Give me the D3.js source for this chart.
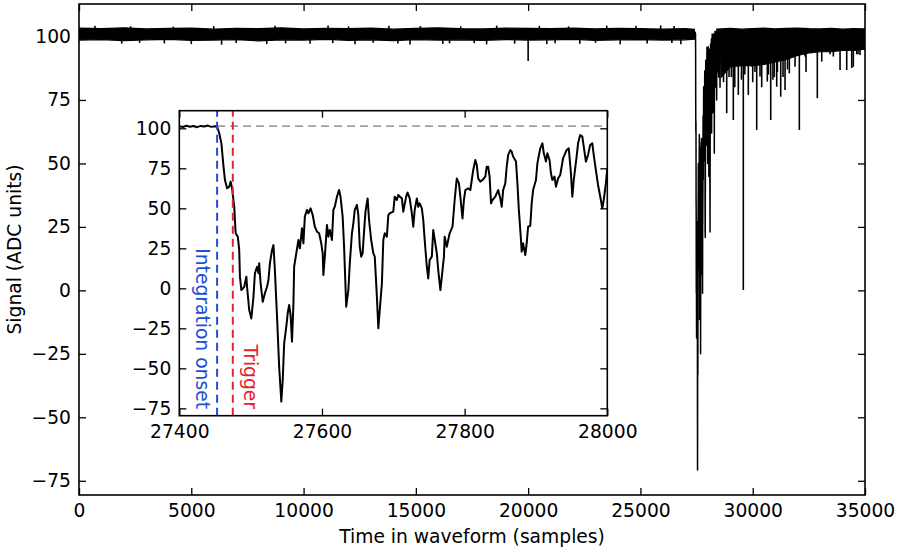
<!DOCTYPE html>
<html>
<head>
<meta charset="utf-8">
<script src="https://cdn.jsdelivr.net/npm/d3@7"></script>
<style>
body { margin: 0; background: #fff; }
svg text { font-family: "DejaVu Sans", sans-serif; }
</style>
</head>
<body>
<svg id="chart" width="900" height="555"></svg>
<script>
// baseline envelope (min / max of the trace) before the pulse
var preSamples = [0, 1000, 2000, 3000, 4000, 5000, 6000, 7000, 8000, 9000, 10000, 11000, 12000, 13000,
    14000, 15000, 16000, 17000, 18000, 19000, 20000, 21000, 22000, 23000, 24000, 25000, 26000, 27000, 27400];
var preLow = [98.6, 98.8, 98.4, 98.7, 98.9, 98.5, 98.6, 98.8, 98.3, 98.7, 98.6, 98.9, 98.5, 98.7,
    98.4, 98.8, 98.6, 98.7, 98.5, 98.8, 98.6, 98.7, 98.9, 98.5, 98.7, 98.8, 98.6, 98.7, 98.9];
var preHigh = [103.3, 103.1, 103.4, 103.0, 103.2, 103.3, 102.9, 103.2, 103.1, 103.4, 103.0, 103.2, 103.1, 103.3,
    102.9, 103.2, 103.4, 103.1, 103.0, 103.3, 103.2, 103.1, 103.3, 103.0, 103.2, 103.1, 102.9, 103.1, 102.8];

// envelope after the pulse has recovered
var postSamples = [28600, 29000, 29500, 30000, 30500, 31000, 31500, 32000, 32500, 33000, 33500, 34000, 34500, 35000];
var postLow = [84.0, 88.0, 88.5, 88.5, 89.0, 90.0, 91.0, 92.5, 93.5, 94.0, 94.0, 94.5, 94.5, 95.0];
var postHigh = [103.0, 103.2, 102.9, 103.1, 103.3, 103.0, 103.2, 103.3, 103.1, 103.0, 103.2, 102.9, 103.1, 103.0];

// single-sample excursions out of the band
var spikeSamples = [710, 1900, 2300, 2700, 3800, 4200, 5000, 6000, 6350, 7000, 8360, 8730, 9200, 10290,
    11090, 11300, 12000, 12290, 13100, 13800, 14200, 14740, 15200, 16200, 16500, 17000, 17600, 18150,
    18600, 19400, 20000, 20500, 20830, 21200, 21800, 22300, 23000, 23500, 24100, 24800, 25300, 25900,
    26400, 26500, 26800,
    28700, 28842, 28945, 29050, 29136, 29200, 29359, 29500, 29581, 29650, 29804, 29969, 30000, 30100,
    30178, 30325, 30400, 30548, 30650, 30700, 30802, 30900, 30962, 31069, 31100, 31171, 31247, 31350,
    31439, 31550, 31630, 31884, 32076, 32330, 32374, 32627, 32877, 33073, 33367, 33443, 33590, 33889,
    34186, 34409, 34480, 34632, 34690, 34778];
var spikeValues = [104.2, 97.2, 104.0, 97.5, 97.3, 103.9, 97.0, 104.1, 96.8, 97.4, 97.0, 104.2, 97.3, 97.1,
    104.3, 97.4, 104.0, 96.9, 97.5, 104.2, 97.2, 96.8, 104.1, 97.0, 97.3, 104.0, 97.4, 96.9,
    104.3, 97.2, 90.3, 104.2, 97.0, 97.3, 104.0, 97.1, 97.5, 104.3, 96.9, 104.2, 97.2, 104.4,
    97.4, 104.1, 96.9,
    82, 69.8, 84, 84, 67.1, 80, 77, 83, 0.1, 85, 77, 88, 82, 86,
    63.2, 84.2, 80, 89.5, 82.2, 85, 67.1, 83, 84, 80.2, 86, 91.5, 76.3, 84,
    78.9, 87, 85.5, 88.1, 63.2, 92.1, 86, 93.4, 75.7, 90.1, 96.2, 93, 92.1, 86.8,
    86.8, 87.6, 88.1, 93, 93, 92.7];

// the pulse itself, sample by sample
var pulseSamples = [27400, 27405, 27410, 27415, 27420, 27425, 27430, 27435, 27440, 27445, 27450, 27453,
    27456, 27459, 27462, 27464, 27467, 27470, 27472, 27474, 27477, 27479, 27482, 27484, 27485, 27487,
    27491, 27494, 27495, 27498, 27501, 27504, 27506, 27509, 27511, 27512, 27514, 27517, 27520, 27523,
    27525, 27527, 27530, 27532, 27534, 27537, 27540, 27543, 27545, 27547, 27550, 27552, 27554, 27556,
    27558, 27560, 27561, 27564, 27567, 27569, 27572, 27574, 27576, 27579, 27581, 27584, 27587, 27590,
    27593, 27596, 27599, 27601, 27602, 27604, 27607, 27609, 27611, 27614, 27616, 27618, 27621, 27624,
    27626, 27629, 27631, 27634, 27637, 27639, 27642, 27644, 27646, 27649, 27651, 27653, 27655, 27657,
    27659, 27661, 27664, 27666, 27669, 27672, 27674, 27677, 27679, 27684, 27686, 27688, 27691, 27693,
    27695, 27700, 27702, 27705, 27707, 27709, 27712, 27714, 27718, 27720, 27723, 27726, 27728, 27730,
    27733, 27735, 27737, 27740, 27742, 27744, 27747, 27749, 27751, 27754, 27756, 27761, 27763, 27766,
    27769, 27771, 27772, 27775, 27777, 27779, 27783, 27786, 27789, 27792, 27794, 27797, 27799, 27801,
    27805, 27808, 27810, 27812, 27815, 27817, 27819, 27822, 27825, 27829, 27831, 27833, 27835, 27837,
    27839, 27843, 27845, 27847, 27850, 27852, 27854, 27857, 27859, 27861, 27864, 27866, 27868, 27872,
    27874, 27876, 27879, 27880, 27882, 27885, 27887, 27889, 27892, 27894, 27896, 27900, 27902, 27906,
    27909, 27911, 27914, 27916, 27919, 27921, 27923, 27926, 27928, 27931, 27934, 27936, 27938, 27941,
    27943, 27946, 27949, 27951, 27953, 27957, 27959, 27962, 27965, 27967, 27970, 27973, 27976, 27979,
    27981, 27984, 27987, 27991, 27993, 27995, 27998, 28000,
    28008, 28015, 28022, 28030, 28038, 28046, 28055, 28063, 28071, 28080, 28090, 28100, 28110, 28118,
    28126, 28135, 28143, 28152, 28160, 28170, 28178, 28187, 28195, 28205, 28214, 28222, 28231, 28240,
    28248, 28257, 28266, 28275, 28283, 28290, 28300, 28310, 28320, 28330, 28340, 28350, 28360, 28370,
    28380, 28395, 28410, 28425, 28440, 28455, 28470, 28485, 28500, 28515, 28530, 28544, 28560, 28575,
    28590, 28600];
var pulseValues = [101.3, 100.8, 101.6, 101.0, 101.4, 100.7, 101.5, 101.1, 101.7, 100.9, 101.3, 101.0,
    96.9, 90.6, 76.0, 67.7, 62.5, 63.5, 66.7, 62.5, 51.0, 34.4, 32.3, 24.0, 7.3, -1.1,
    0.9, 7.3, 1.0, -13.6, -18.8, -5.2, 9.4, 13.5, 9.4, 15.6, 3.1, -8.4, -3.1, 1.0,
    5.2, 15.6, 24.0, 27.0, 11.4, -17.7, -49.0, -70.8, -57.3, -34.4, -24.0, -15.6, -10.4, -16.7,
    -33.3, -9.4, 13.5, 21.9, 30.2, 25.0, 37.5, 28.1, 44.8, 49.0, 46.9, 50.0, 45.8, 38.5,
    35.4, 34.4, 28.1, 21.9, 8.3, 19.8, 39.6, 32.3, 36.5, 30.2, 49.0, 51.0, 57.3, 61.4,
    57.3, 44.8, 26.0, -11.5, -1.1, 15.6, 34.4, 40.6, 49.0, 52.1, 45.8, 26.0, 19.8, 21.9,
    35.4, 47.9, 56.2, 42.7, 30.2, 21.9, 19.8, -5.2, -25.0, 3.1, 30.2, 34.4, 32.3, 45.8,
    46.9, 47.9, 57.3, 55.2, 58.3, 57.3, 56.2, 47.9, 57.3, 59.8, 56.2, 46.9, 38.5, 49.0,
    56.2, 51.0, 53.1, 50.0, 42.7, 30.2, 13.5, 6.2, 17.7, 19.8, 36.5, 21.9, 11.4, -1.1,
    11.4, 19.8, 32.3, 26.0, 30.2, 34.4, 38.5, 55.2, 68.7, 65.6, 57.3, 43.7, 55.2, 61.4,
    62.5, 61.4, 67.7, 73.9, 80.2, 77.1, 68.7, 66.7, 67.7, 69.8, 76.0, 76.0, 69.8, 53.1,
    55.2, 57.3, 59.4, 61.4, 56.2, 51.0, 61.4, 65.6, 76.0, 83.3, 86.4, 85.4, 82.3, 79.2,
    65.6, 49.0, 30.2, 22.9, 28.1, 20.8, 28.1, 38.5, 39.0, 53.1, 61.4, 67.7, 78.1, 87.5,
    90.6, 84.4, 79.2, 84.4, 80.2, 71.9, 67.7, 69.8, 63.5, 68.7, 70.8, 76.0, 81.2, 84.4,
    86.4, 87.5, 71.9, 57.3, 67.7, 82.3, 90.6, 95.8, 94.8, 88.5, 79.2, 83.3, 89.6, 90.6,
    83.3, 73.9, 64.6, 55.2, 50.0, 55.2, 65.6, 75.0,
    90, 62, 96, 72, 92, 45, 88, 66, 95, 70, 50, 23, 85, 65,
    97, 72, 94, 68, 99, 62, 93, 75, 101, 78, 97, 70, 100, 80,
    96, 74, 101, 86, 97, 54, 98, 82, 102, 80, 100, 84, 102, 88,
    101, 75, 103, 86, 102, 90, 103, 84, 102, 92, 103, 80, 102, 90,
    103, 101];

var mainXTicks = [0, 5000, 10000, 15000, 20000, 25000, 30000, 35000];
var mainYTicks = [-75, -50, -25, 0, 25, 50, 75, 100];
var insetXTicks = [27400, 27600, 27800, 28000];
var insetYTicks = [-75, -50, -25, 0, 25, 50, 75, 100];

var onsetSample = 27453;
var triggerSample = 27475;
var baselineLevel = 101.4;

var FONT = 18.7;
var BLUE = "#1c4fd4";
var RED = "#e3242b";

var svg = d3.select("#chart");

var x = d3.scaleLinear().domain([0, 35000]).range([79, 865]);
var y = d3.scaleLinear().domain([-80.6, 112.8]).range([495, 4]);

var xi = d3.scaleLinear().domain([27400, 28000]).range([179.3, 607.3]);
var yi = d3.scaleLinear().domain([-79.6, 111]).range([415.7, 110.7]);

var defs = svg.append("defs");
var add_clip = function(id, xs, ys) {
    defs.append("clipPath").attr("id", id).append("rect")
        .attr("x", xs.range()[0]).attr("y", ys.range()[1])
        .attr("width", xs.range()[1] - xs.range()[0])
        .attr("height", ys.range()[0] - ys.range()[1]);
};
add_clip("clip-main", x, y);
add_clip("clip-inset", xi, yi);

var draw_axes = function(g, xs, ys, xTicks, yTicks) {
    var x0 = xs.range()[0], x1 = xs.range()[1], y0 = ys.range()[0], y1 = ys.range()[1];
    var fmt = d3.format("d");

    var ax = [
        g.append("g").attr("transform", "translate(0," + y0 + ")")
            .call(d3.axisBottom(xs).tickValues(xTicks).tickSizeInner(-7).tickSizeOuter(0).tickPadding(9).tickFormat(fmt)),
        g.append("g").attr("transform", "translate(0," + y1 + ")")
            .call(d3.axisTop(xs).tickValues(xTicks).tickSizeInner(-7).tickSizeOuter(0).tickFormat("")),
        g.append("g").attr("transform", "translate(" + x0 + ",0)")
            .call(d3.axisLeft(ys).tickValues(yTicks).tickSizeInner(-7).tickSizeOuter(0).tickPadding(8).tickFormat(fmt)),
        g.append("g").attr("transform", "translate(" + x1 + ",0)")
            .call(d3.axisRight(ys).tickValues(yTicks).tickSizeInner(-7).tickSizeOuter(0).tickFormat(""))
    ];
    ax.forEach(function(a) {
        a.select(".domain").remove();
        a.selectAll(".tick line").attr("stroke", "#000").attr("stroke-width", 1.3);
        a.selectAll(".tick text").attr("fill", "#000")
            .style("font-size", FONT + "px").style("font-family", "DejaVu Sans, sans-serif");
    });

    g.append("rect")
        .attr("x", x0).attr("y", y1)
        .attr("width", x1 - x0).attr("height", y0 - y1)
        .attr("fill", "none").attr("stroke", "#000").attr("stroke-width", 1.6);
};

// ---- main panel ----
var mainG = svg.append("g");
var plotG = mainG.append("g").attr("clip-path", "url(#clip-main)");

var band = d3.area()
    .x(function(d) { return x(d[0]); })
    .y0(function(d) { return y(d[1]); })
    .y1(function(d) { return y(d[2]); });

var pre = preSamples.map(function(s, i) { return [s, preLow[i], preHigh[i]]; });
var post = postSamples.map(function(s, i) { return [s, postLow[i], postHigh[i]]; });

[pre, post].forEach(function(rows) {
    plotG.append("path").datum(rows)
        .attr("d", band)
        .attr("fill", "#000").attr("stroke", "#000").attr("stroke-width", 1.2);
});

plotG.selectAll(".spike")
    .data(spikeSamples)
    .enter().append("line")
    .attr("class", "spike")
    .attr("x1", function(d) { return x(d); })
    .attr("x2", function(d) { return x(d); })
    .attr("y1", y(101))
    .attr("y2", function(d, i) { return y(spikeValues[i]); })
    .attr("stroke", "#000").attr("stroke-width", 1.6);

var pulse = pulseSamples.map(function(s, i) { return [s, pulseValues[i]]; });

plotG.append("path").datum(pulse)
    .attr("d", d3.line().x(function(d) { return x(d[0]); }).y(function(d) { return y(d[1]); }))
    .attr("fill", "none").attr("stroke", "#000").attr("stroke-width", 1.5).attr("stroke-linejoin", "round");

draw_axes(mainG, x, y, mainXTicks, mainYTicks);

mainG.append("text")
    .attr("x", (x.range()[0] + x.range()[1]) / 2).attr("y", 543)
    .attr("text-anchor", "middle").style("font-size", FONT + "px")
    .text("Time in waveform (samples)");

mainG.append("text")
    .attr("transform", "translate(21," + ((y.range()[0] + y.range()[1]) / 2) + ") rotate(-90)")
    .attr("text-anchor", "middle").style("font-size", FONT + "px")
    .text("Signal (ADC units)");

// ---- inset ----
var insetG = svg.append("g");
insetG.append("rect")
    .attr("x", xi.range()[0]).attr("y", yi.range()[1])
    .attr("width", xi.range()[1] - xi.range()[0]).attr("height", yi.range()[0] - yi.range()[1])
    .attr("fill", "#fff");

var insetPlot = insetG.append("g").attr("clip-path", "url(#clip-inset)");

insetPlot.append("line")
    .attr("x1", xi(onsetSample)).attr("x2", xi.range()[1])
    .attr("y1", yi(baselineLevel)).attr("y2", yi(baselineLevel))
    .attr("stroke", "#a0a0a0").attr("stroke-width", 1.8).attr("stroke-dasharray", "8,5");

insetPlot.append("path").datum(pulse.filter(function(d) { return d[0] <= 28000; }))
    .attr("d", d3.line().x(function(d) { return xi(d[0]); }).y(function(d) { return yi(d[1]); }))
    .attr("fill", "none").attr("stroke", "#000").attr("stroke-width", 2).attr("stroke-linejoin", "round");

[[onsetSample, BLUE], [triggerSample, RED]].forEach(function(m) {
    insetPlot.append("line")
        .attr("x1", xi(m[0])).attr("x2", xi(m[0]))
        .attr("y1", yi.range()[0]).attr("y2", yi.range()[1])
        .attr("stroke", m[1]).attr("stroke-width", 2).attr("stroke-dasharray", "8,5");
});

insetG.append("text")
    .attr("transform", "translate(" + (xi(onsetSample) - 21) + ",409) rotate(90)")
    .attr("text-anchor", "end").attr("fill", BLUE).style("font-size", FONT + "px")
    .text("Integration onset");

insetG.append("text")
    .attr("transform", "translate(" + (xi(triggerSample) + 11) + ",409) rotate(90)")
    .attr("text-anchor", "end").attr("fill", RED).style("font-size", FONT + "px")
    .text("Trigger");

draw_axes(insetG, xi, yi, insetXTicks, insetYTicks);
</script>
</body>
</html>
